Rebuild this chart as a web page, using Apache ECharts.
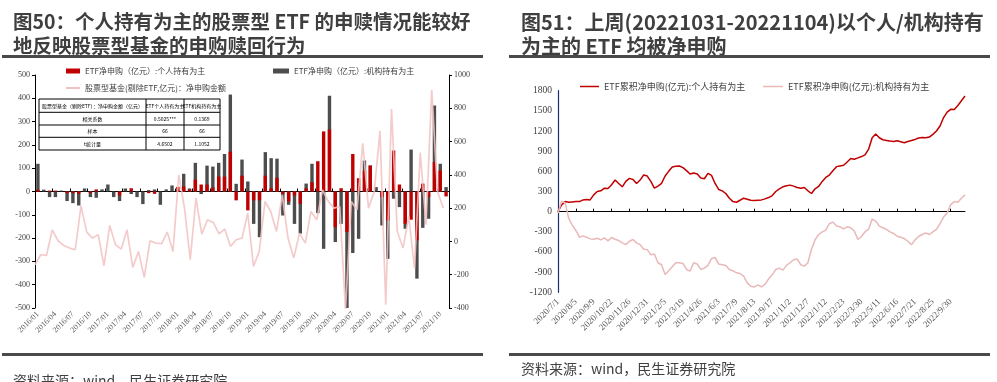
<!DOCTYPE html>
<html><head><meta charset="utf-8">
<script src="https://cdn.jsdelivr.net/npm/echarts@6/dist/echarts.min.js"></script>
<style>html,body{margin:0;padding:0;background:#fff}#c{width:997px;height:382px}</style>
</head><body><div id="c"></div>
<script>
// ---------- Left chart (图50) data ----------
const leftMonths = [];
for (let y = 2016; y <= 2021; y++) for (let m = 1; m <= 12; m++) {
  if (y === 2021 && m > 11) break;
  leftMonths.push(y + '/' + (m < 10 ? '0' + m : m));
}
const leftLineMonths = ['2015/12'].concat(leftMonths, ['2021/12']);
const etfIndividual = [8,0,4,4,0,-7,-7,-10,0,-7,9,0,0,0,-17,0,14,0,0,-7,-10,0,0,0,20,21,8,51,30,30,17,64,64,171,-38,68,-81,-38,-38,68,14,59,-10,-43,-17,-53,14,40,130,258,266,-153,14,-174,161,57,90,111,0,-24,-124,176,30,-139,-121,-210,34,-24,126,90,-21];
const etfInstitution = [119,8,-24,-24,4,-41,-50,-60,13,-24,-27,9,30,-24,-41,13,-11,-24,-54,6,9,-57,9,26,5,76,13,123,-11,111,107,123,161,416,33,137,43,-139,-196,169,143,141,-103,-57,-139,-181,34,119,-93,-246,411,-217,-139,-507,-264,-203,133,112,19,-146,-289,-31,-67,-160,180,-374,-156,-117,369,119,19];
const stockFundFlow = [-140,-80,-84,70,4,-24,-40,-50,214,56,20,40,-146,96,-20,-46,70,-156,-60,-216,4,-10,-14,56,-60,400,200,-110,260,44,130,114,46,74,-30,10,20,170,-150,-60,240,180,60,280,20,-100,50,-10,180,130,310,240,200,210,-410,240,190,590,200,300,664,-380,796,60,-40,150,-160,532,100,910,300,200];
const leftNames = ['ETF净申购（亿元）:个人持有为主', 'ETF净申购（亿元）:机构持有为主', '股票型基金(剔除ETF,亿元)：净申购金额'];
const tableRows = [
  ['股票型基金（剔除ETF）：净申购金额（亿元）', 'ETF个人持有为主', 'ETF机构持有为主'],
  ['相关系数', '0.5025***', '0.1369'],
  ['样本', '66', '66'],
  ['t统计量', '4.6502', '1.1052']
];
// ---------- Right chart (图51) data ----------
const rightTickLabels = ['2020/7/1','2020/8/5','2020/9/9','2020/10/22','2020/11/26','2020/12/31','2021/2/5','2021/3/19','2021/4/26','2021/6/3','2021/7/9','2021/8/13','2021/9/17','2021/11/2','2021/12/7','2022/1/12','2022/2/23','2022/3/30','2022/5/11','2022/6/16','2022/7/21','2022/8/25','2022/9/30'];
const cumIndividual = [0,100,150,140,145,150,150,175,180,175,250,300,310,350,345,400,470,420,370,450,495,480,420,470,545,530,450,350,380,420,530,600,665,675,680,655,610,560,575,560,500,490,570,540,420,330,310,270,200,150,140,170,200,185,170,165,170,175,190,210,240,300,340,370,385,395,380,360,350,360,310,270,340,375,450,510,545,610,670,680,690,740,790,780,800,820,845,930,1100,1155,1100,1070,1060,1050,1045,1055,1040,1025,1045,1060,1075,1095,1105,1100,1110,1150,1200,1275,1400,1480,1523,1520,1580,1650,1720];
const cumInstitution = [-20,155,130,-100,-200,-280,-380,-360,-380,-405,-410,-395,-420,-390,-435,-385,-410,-430,-465,-490,-440,-415,-465,-490,-560,-565,-640,-630,-760,-790,-935,-880,-820,-760,-760,-770,-860,-885,-760,-780,-860,-840,-800,-700,-680,-780,-790,-800,-860,-880,-910,-920,-960,-1060,-1110,-1120,-1090,-1120,-1080,-1000,-940,-860,-840,-870,-800,-760,-715,-705,-790,-810,-760,-560,-420,-340,-300,-275,-180,-155,-215,-225,-255,-225,-240,-290,-415,-370,-300,-260,-110,-140,-215,-240,-265,-300,-325,-365,-380,-400,-440,-490,-420,-370,-340,-315,-340,-300,-265,-180,-80,-20,105,150,140,200,250];
const rightNames = ['ETF累积净申购(亿元):个人持有为主', 'ETF累积净申购(亿元):机构持有为主'];
const rightCats = cumIndividual.map((_, i) => i % 5 === 0 ? rightTickLabels[i / 5] : rightTickLabels[Math.floor(i / 5)] + '#' + (i % 5));

const titles = {
  left: ['图50：个人持有为主的股票型 ETF 的申赎情况能较好', '地反映股票型基金的申购赎回行为'],
  right: ['图51：上周(20221031-20221104)以个人/机构持有', '为主的 ETF 均被净申购'],
  source: '资料来源：wind，民生证券研究院'
};

// ---------- graphics ----------
const SANS = '"Noto Sans CJK SC", "Noto Sans", sans-serif';
const SERIF = '"Liberation Serif", "DejaVu Serif", serif';
const g = [];
function txt(x, y, s, font, fill, align, va) {
  g.push({ type: 'text', x: x, y: y, silent: true,
    style: { text: s, font: font, fill: fill, align: align || 'left', verticalAlign: va || 'middle' } });
}
function rect(x, y, w, h, fill) { g.push({ type: 'rect', shape: { x: x, y: y, width: w, height: h }, style: { fill: fill }, silent: true }); }
function line(x1, y1, x2, y2) { g.push({ type: 'line', shape: { x1: x1, y1: y1, x2: x2, y2: y2 }, style: { stroke: '#000', lineWidth: 1 }, silent: true }); }
txt(13, 22, titles.left[0], 'bold 19.5px ' + SANS, '#3f3f3f');
txt(13, 46, titles.left[1], 'bold 19.5px ' + SANS, '#3f3f3f');
txt(521, 22, titles.right[0], 'bold 20px ' + SANS, '#3f3f3f');
txt(521, 46, titles.right[1], 'bold 20px ' + SANS, '#3f3f3f');
rect(2, 55, 481, 3, '#4a4a4a');
rect(509, 55, 481, 3, '#4a4a4a');
rect(2, 353, 481, 3, '#4a4a4a');
rect(509, 353, 481, 3, '#4a4a4a');
txt(13, 381, titles.source, '14px ' + SANS, '#404040');
txt(521, 369, titles.source, '14px ' + SANS, '#404040');
// table
const tx = [39, 146, 184, 220], ty = [99, 112.3, 125, 137.3, 150];
rect(tx[0], ty[0], tx[3] - tx[0], ty[4] - ty[0], '#fff');
ty.forEach(y => line(tx[0], y, tx[3], y));
tx.forEach(x => line(x, ty[0], x, ty[4]));
tableRows.forEach((row, r) => row.forEach((s, c) => {
  txt((tx[c] + tx[c + 1]) / 2, (ty[r] + ty[r + 1]) / 2, s, '5px ' + SANS, '#000', 'center');
}));

const legendBase = { padding: 0, itemGap: 4, textStyle: { fontSize: 8, fontFamily: SANS, color: '#404040' } };
const plain = v => String(v);

const option = {
  animation: false,
  backgroundColor: '#fff',
  grid: [
    { left: 35, top: 75, width: 414, height: 233 },
    { left: 558, top: 90.7, width: 407, height: 201.6 }
  ],
  legend: [
    Object.assign({}, legendBase, { left: 66, top: 67, data: [leftNames[0]], icon: 'rect', itemWidth: 14, itemHeight: 5 }),
    Object.assign({}, legendBase, { left: 273, top: 67, data: [leftNames[1]], icon: 'rect', itemWidth: 16, itemHeight: 5 }),
    Object.assign({}, legendBase, { left: 66, top: 84, data: [leftNames[2]], icon: 'rect', itemWidth: 14, itemHeight: 2 }),
    Object.assign({}, legendBase, { left: 580, top: 82, data: [rightNames[0]], icon: 'rect', itemWidth: 19, itemHeight: 1.5, textStyle: { fontSize: 9, fontFamily: SANS, color: '#404040' } }),
    Object.assign({}, legendBase, { left: 763, top: 82, data: [rightNames[1]], icon: 'rect', itemWidth: 20, itemHeight: 1.5, textStyle: { fontSize: 9, fontFamily: SANS, color: '#404040' } })
  ],
  xAxis: [
    { gridIndex: 0, type: 'category', data: leftMonths, boundaryGap: true,
      axisLine: { onZero: true, lineStyle: { color: '#000', width: 1 } },
      axisTick: { show: true, inside: true, length: 3, interval: 2, lineStyle: { color: '#000' } },
      axisLabel: { show: false }, splitLine: { show: false } },
    { gridIndex: 0, type: 'category', data: leftMonths, boundaryGap: true, position: 'bottom',
      axisLine: { show: false, onZero: false }, axisTick: { show: false },
      axisLabel: { interval: 2, rotate: 45, fontSize: 8, fontFamily: SERIF, color: '#595959', margin: 5 } },
    { gridIndex: 0, type: 'category', data: leftLineMonths, boundaryGap: false, show: false },
    { gridIndex: 1, type: 'category', data: rightCats, boundaryGap: false,
      axisLine: { onZero: true, lineStyle: { color: '#000', width: 1 } },
      axisTick: { show: true, inside: true, length: 3, interval: 4, lineStyle: { color: '#000' } },
      axisLabel: { show: false } },
    { gridIndex: 1, type: 'category', data: rightCats, boundaryGap: false, position: 'bottom',
      axisLine: { show: false, onZero: false }, axisTick: { show: false },
      axisLabel: { interval: 4, rotate: 45, fontSize: 9, fontFamily: SERIF, color: '#595959', margin: 8,
        formatter: v => v.split('#')[0] } }
  ],
  yAxis: [
    { gridIndex: 0, type: 'value', min: -500, max: 500, interval: 100,
      axisLine: { show: true, lineStyle: { color: '#000' } }, axisTick: { show: true, length: 3, lineStyle: { color: '#000' } },
      axisLabel: { fontSize: 8, fontFamily: SERIF, color: '#404040', margin: 5, formatter: plain }, splitLine: { show: false } },
    { gridIndex: 0, type: 'value', min: -400, max: 1000, interval: 200, position: 'right',
      axisLine: { show: true, lineStyle: { color: '#000' } }, axisTick: { show: true, length: 3, lineStyle: { color: '#000' } },
      axisLabel: { fontSize: 8, fontFamily: SERIF, color: '#404040', margin: 5, formatter: plain }, splitLine: { show: false } },
    { gridIndex: 1, type: 'value', min: -1200, max: 1800, interval: 300,
      axisLine: { show: true, lineStyle: { color: '#1a2f6b', width: 1.2 } }, axisTick: { show: false },
      axisLabel: { fontSize: 9.5, fontFamily: SERIF, color: '#404040', margin: 6, formatter: plain }, splitLine: { show: false } }
  ],
  series: [
    { name: leftNames[1], type: 'bar', xAxisIndex: 0, yAxisIndex: 0, data: etfInstitution, barWidth: 3.4, barGap: '-100%',
      itemStyle: { color: '#4d4d4d' } },
    { name: leftNames[0], type: 'bar', xAxisIndex: 0, yAxisIndex: 0, data: etfIndividual, barWidth: 3.4, barGap: '-100%',
      itemStyle: { color: '#c00000' } },
    { name: leftNames[2], type: 'line', xAxisIndex: 2, yAxisIndex: 1, data: stockFundFlow, showSymbol: false, z: 5,
      lineStyle: { color: '#f2c2c2', width: 1.7, opacity: 0.85 }, itemStyle: { color: '#f2c2c2' } },
    { name: rightNames[0], type: 'line', xAxisIndex: 3, yAxisIndex: 2, data: cumIndividual, showSymbol: false,
      lineStyle: { color: '#c00000', width: 1.5 }, itemStyle: { color: '#c00000' } },
    { name: rightNames[1], type: 'line', xAxisIndex: 3, yAxisIndex: 2, data: cumInstitution, showSymbol: false,
      lineStyle: { color: '#e8b9b8', width: 1.5 }, itemStyle: { color: '#e8b9b8' } }
  ],
  graphic: g
};
const chart = echarts.init(document.getElementById('c'), null, { renderer: 'canvas' });
chart.setOption(option);
</script></body></html>
